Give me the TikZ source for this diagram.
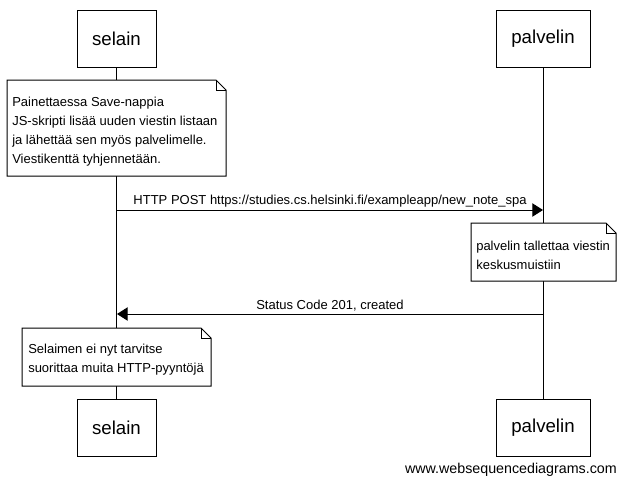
\documentclass[tikz,border=0pt]{standalone}
\usepackage{fontspec}
\setmainfont{Liberation Sans}
\usetikzlibrary{arrows.meta}

\begin{document}
\begin{tikzpicture}[x=0.75pt,y=0.75pt,yscale=-1,xscale=1,
  actor/.style={draw, line width=0.75pt, fill=white, minimum height=42.75pt, inner sep=0pt, font=\fontsize{14}{16}\selectfont},
  notebox/.style={draw, line width=0.75pt, fill=white},
  notetext/.style={anchor=north west, inner sep=0pt, align=left, font=\fontsize{9.75}{14.25}\selectfont},
  msg/.style={line width=0.75pt, -{Triangle[length=8pt,width=10pt]}},
  msgtext/.style={anchor=base, inner sep=0pt, font=\fontsize{9.75}{12}\selectfont}]
\useasboundingbox (0,0) rectangle (624,487);

% Actors
\node [actor, minimum width=59.25pt] (selainTop) at (116.5,38.5) {selain};
\node [actor, minimum width=70.5pt] (palvelinTop) at (543,38.5) {palvelin};
\node [actor, minimum width=59.25pt] (selainBot) at (116.5,427.5) {selain};
\node [actor, minimum width=70.5pt] (palvelinBot) at (543,427.5) {palvelin};

% Lifelines
\draw [line width=0.75pt] (selainTop) -- (selainBot);
\draw [line width=0.75pt] (palvelinTop) -- (palvelinBot);

%Shape: Note
\draw [notebox] (7,80) -- (216,80) -- (226,90) -- (226,176) -- (7,176) -- cycle ;
\draw [line width=0.5pt] (216,80) -- (216,90) -- (226,90) ;
% Text Node
\node [notetext] (noteSave) at (12,96.5) {Painettaessa Save-nappia\\JS-skripti lisää uuden viestin listaan\\ja lähettää sen myös palvelimelle.\\Viestikenttä tyhjennetään.};

% Message
\coordinate (postFrom) at (117,210);
\coordinate (postTo) at (543,210);
\draw [msg] (postFrom) -- (postTo);
\node [msgtext] (postLabel) at (330,204.5) {HTTP POST https://studies.cs.helsinki.fi/exampleapp/new\_note\_spa};

%Shape: Note
\draw [notebox] (471,223) -- (606,223) -- (616,233) -- (616,281) -- (471,281) -- cycle ;
\draw [line width=0.5pt] (606,223) -- (606,233) -- (616,233) ;
% Text Node
\node [notetext] (noteStore) at (476,241) {palvelin tallettaa viestin\\keskusmuistiin};

% Message
\coordinate (statusFrom) at (543,314);
\coordinate (statusTo) at (117,314);
\draw [msg] (statusFrom) -- (statusTo);
\node [msgtext] (statusLabel) at (330,309.5) {Status Code 201, created};

%Shape: Note
\draw [notebox] (22,328) -- (201,328) -- (211,338) -- (211,386) -- (22,386) -- cycle ;
\draw [line width=0.5pt] (201,328) -- (201,338) -- (211,338) ;
% Text Node
\node [notetext] (noteDone) at (28,344) {Selaimen ei nyt tarvitse\\suorittaa muita HTTP-pyyntöjä};

% Text Node
\node [anchor=base east, inner sep=0pt, font=\fontsize{10.7}{12}\selectfont] (footer) at (617,473) {www.websequencediagrams.com};

\end{tikzpicture}
\end{document}
